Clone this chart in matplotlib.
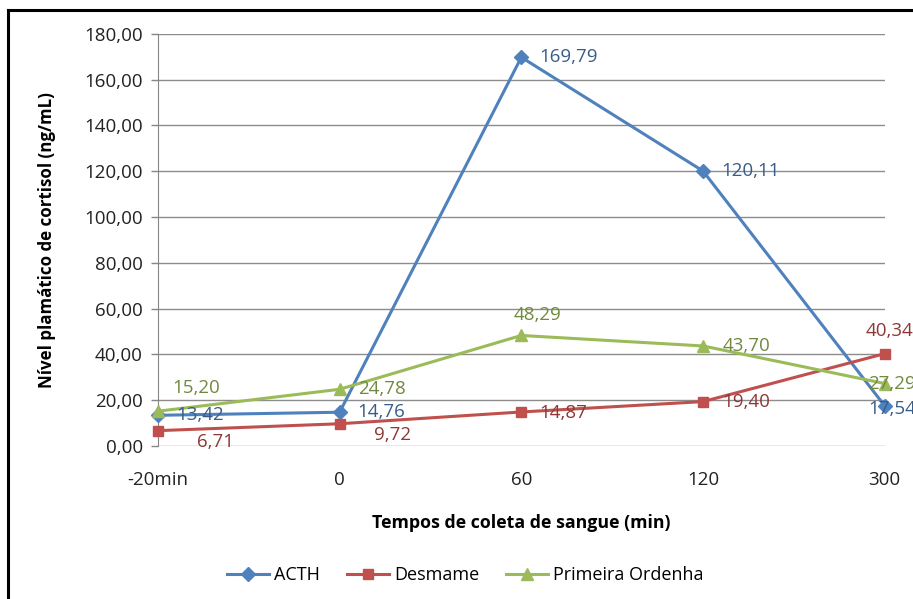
import matplotlib
matplotlib.use('Agg')
import matplotlib.pyplot as plt
from matplotlib.lines import Line2D

plt.rcParams['font.family'] = ['Open Sans', 'DejaVu Sans']

# Coleta de sangue
tempos = ['-20min', '0', '60', '120', '300']
acth = [13.42, 14.76, 169.79, 120.11, 17.54]
desmame = [6.71, 9.72, 14.87, 19.40, 40.34]
primeira_ordenha = [15.20, 24.78, 48.29, 43.70, 27.29]

series = [
    ('ACTH', acth, '#4F81BD', '#385D8A', 'D', 7),
    ('Desmame', desmame, '#C0504D', '#8C3836', 's', 7),
    ('Primeira Ordenha', primeira_ordenha, '#9BBB59', '#71893F', '^', 8),
]

# deslocamento dos rótulos (pontos) por série e categoria
offsets = {
    'ACTH': [(13, 0, 'left'), (13, 0, 'left'), (13, 0, 'left'), (13, 0, 'left'), (-12, -2, 'left')],
    'Desmame': [(28, -8, 'left'), (25, -8, 'left'), (13, -1, 'left'), (14, 0, 'left'), (-14, 16, 'left')],
    'Primeira Ordenha': [(10, 17, 'left'), (13, 0, 'left'), (12, 15, 'center'), (14, 0, 'left'), (-12, 0, 'left')],
}

fig = plt.figure(figsize=(9.13, 5.99), dpi=100)
ax = fig.add_axes([0.173, 0.2554, 0.796, 0.688])

x = list(range(len(tempos)))
handles = []
for nome, vals, cor, cor_txt, mk, ms in series:
    h, = ax.plot(x, vals, color=cor, lw=2.2, marker=mk, markersize=ms,
                 markerfacecolor=cor, markeredgecolor=cor, label=nome,
                 zorder=3, clip_on=False)
    handles.append(h)
    for xi, v, (dx, dy, ha) in zip(x, vals, offsets[nome]):
        ax.annotate(f'{v:.2f}'.replace('.', ','), (xi, v), xytext=(dx, dy),
                    textcoords='offset points', ha=ha, va='center',
                    color=cor_txt, fontsize=13.5, zorder=4, annotation_clip=False)

ax.set_xlim(0, len(tempos) - 1)
ax.set_ylim(0, 180)
ax.set_yticks(range(0, 181, 20))
ax.set_yticklabels([f'{v:.2f}'.replace('.', ',') for v in range(0, 181, 20)])
ax.set_xticks(x)
ax.set_xticklabels(tempos)
ax.tick_params(axis='x', length=0, pad=18, labelsize=13.5, colors='#222222')
ax.tick_params(axis='y', length=5, width=1, color='#868686', pad=6,
               labelsize=13.5, labelcolor='#222222')

ax.grid(axis='y', color='#8C8C8C', lw=1)
ax.set_axisbelow(True)
for s in ['top', 'right', 'bottom']:
    ax.spines[s].set_visible(False)
ax.spines['left'].set_color('#868686')

ax.set_xlabel('Tempos de coleta de sangue (min)', fontsize=12.8,
              fontweight='bold', labelpad=18)
ax.set_ylabel('Nível plamático de cortisol (ng/mL)', fontsize=12.2,
              fontweight='bold', labelpad=20)

fig.legend(handles=handles, loc='center', bbox_to_anchor=(0.51, 0.04),
           ncol=3, frameon=False, fontsize=13, handlelength=2.3,
           columnspacing=1.5, handletextpad=0.3)

# moldura do gráfico
fig.add_artist(Line2D([8 / 913, 8 / 913], [0, 1 - 10 / 599], color='black', lw=2.2,
                      transform=fig.transFigure))
fig.add_artist(Line2D([8 / 913, 1], [1 - 10 / 599, 1 - 10 / 599], color='black', lw=2.2,
                      transform=fig.transFigure))

fig.savefig('out.png', dpi=100)
